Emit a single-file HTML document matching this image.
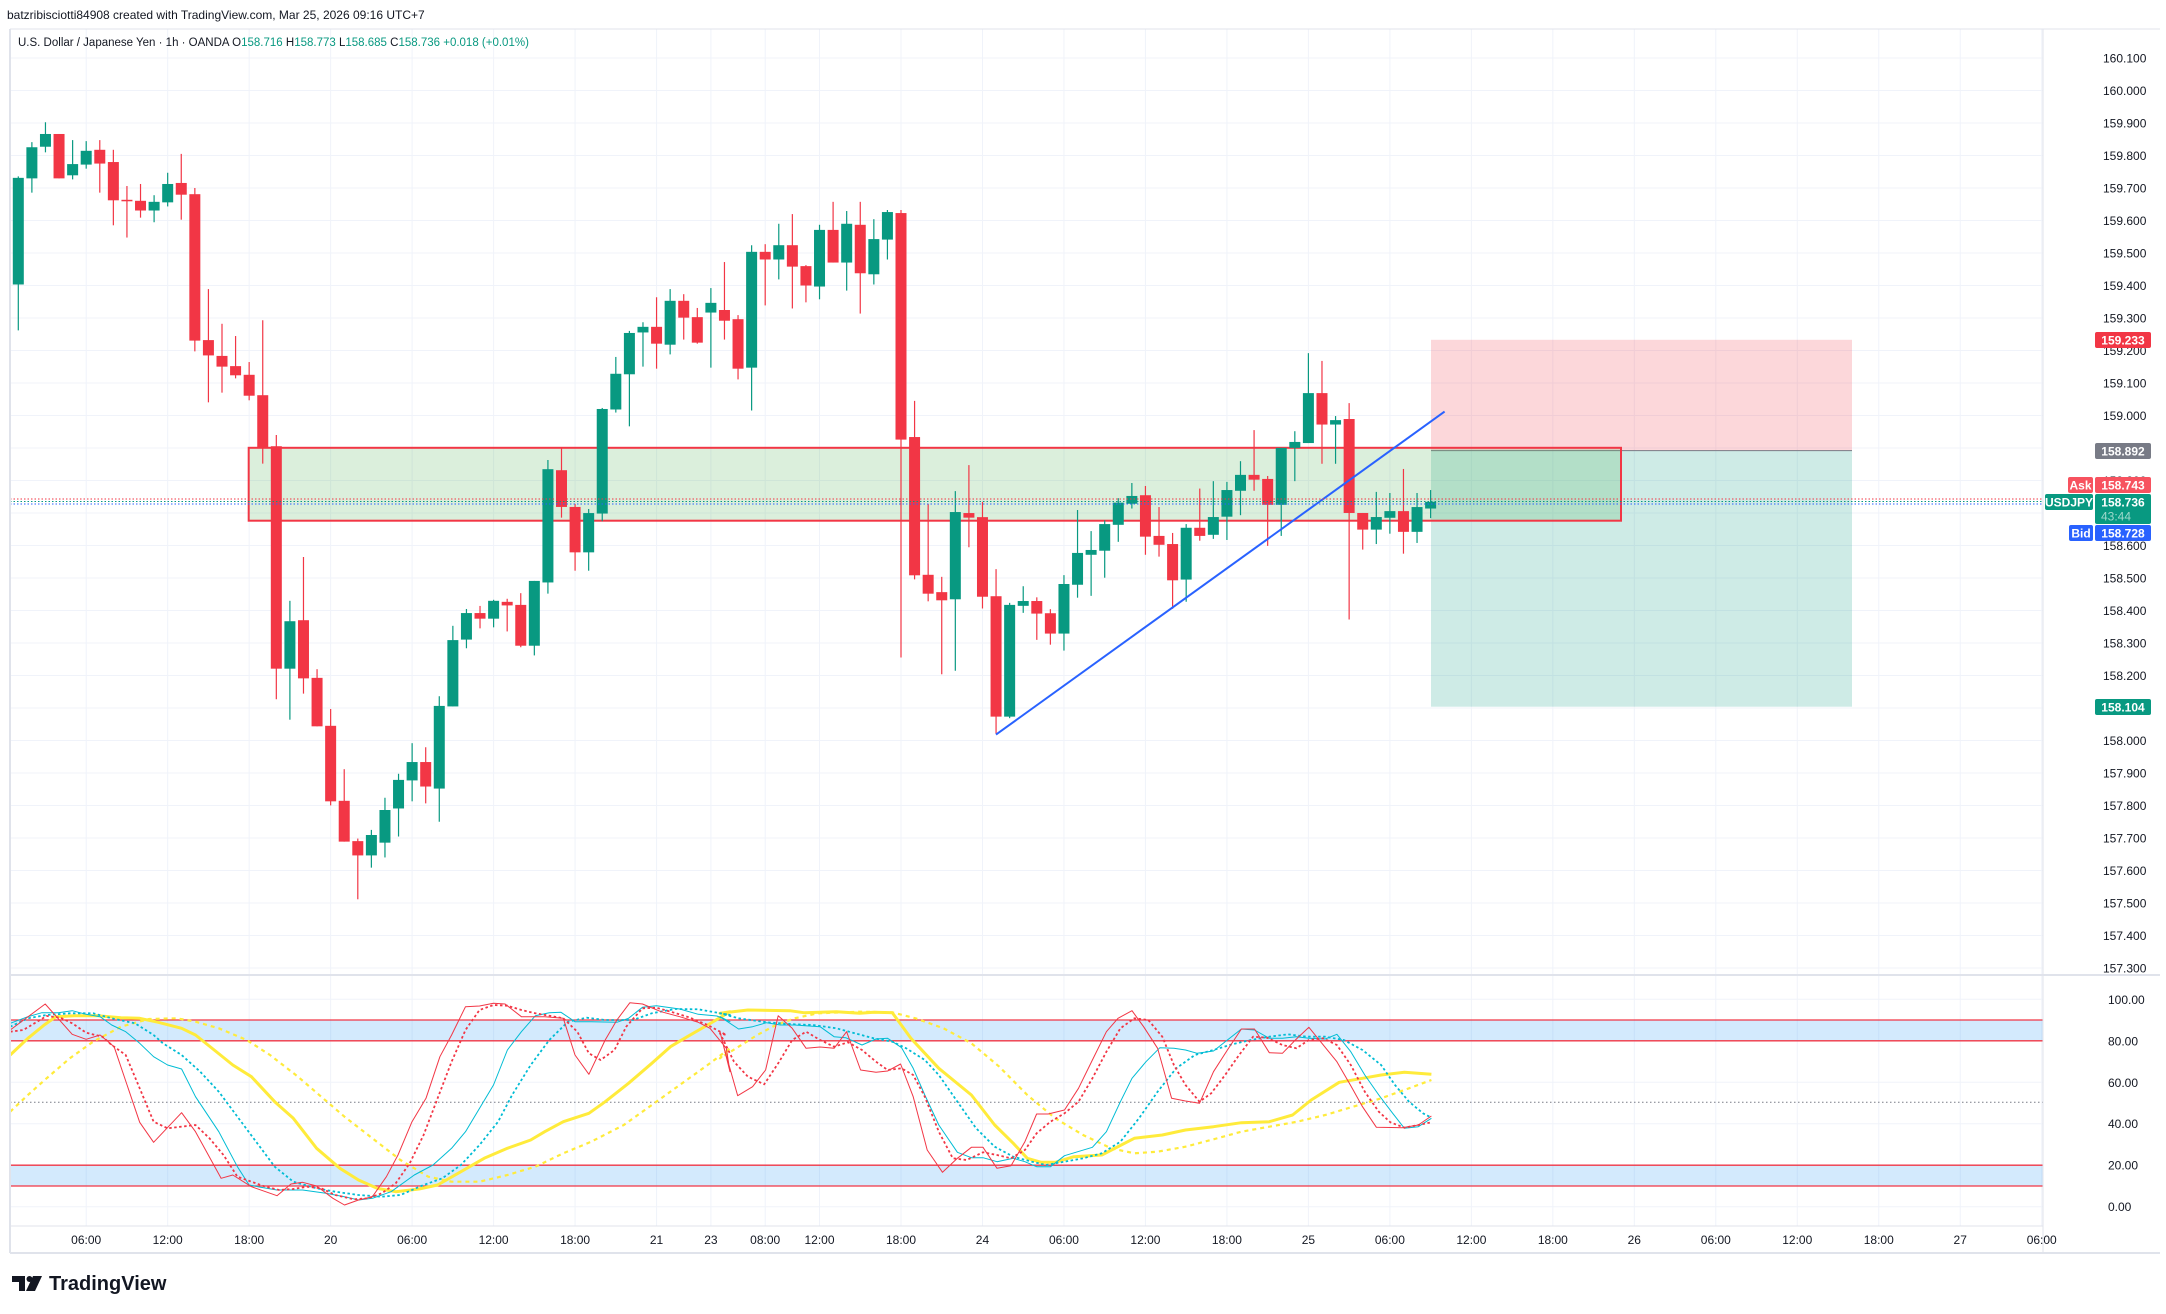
<!DOCTYPE html>
<html><head><meta charset="utf-8">
<style>
html,body{margin:0;padding:0;background:#fff;}
svg{display:block;font-family:"Liberation Sans",sans-serif;}
</style></head>
<body>
<svg id="c" xmlns="http://www.w3.org/2000/svg" width="2166" height="1314" viewBox="0 0 2166 1314">
<rect x="0" y="0" width="2166" height="1314" fill="#fff"/>
<g id="grid"></g>
<!-- position tool -->
<rect x="1431" y="339.8" width="421" height="110.8" fill="#f23645" fill-opacity="0.2"/>
<rect x="1431" y="450.6" width="421" height="256.1" fill="#089981" fill-opacity="0.2"/>
<line x1="1431" y1="450.6" x2="1852" y2="450.6" stroke="#787b86" stroke-width="1"/>
<!-- zone -->
<rect x="248.7" y="447.8" width="1372.3" height="72.9" fill="#4caf50" fill-opacity="0.2" stroke="#f23645" stroke-width="2"/>
<g id="candles"></g>
<line x1="996" y1="734.6" x2="1444.6" y2="411.6" stroke="#2962ff" stroke-width="2"/>
<!-- price lines -->
<line x1="10" y1="499" x2="2043" y2="499" stroke="#f23645" stroke-width="1" stroke-dasharray="1.5,2"/>
<line x1="10" y1="501.5" x2="2043" y2="501.5" stroke="#089981" stroke-width="1" stroke-dasharray="1.5,2"/>
<line x1="10" y1="504" x2="2043" y2="504" stroke="#2962ff" stroke-width="1" stroke-dasharray="1.5,2"/>
<!-- oscillator bands -->
<rect x="10" y="1020" width="2033" height="20.8" fill="#2196f3" fill-opacity="0.2"/>
<line x1="10" y1="1020" x2="2043" y2="1020" stroke="#f23645" stroke-width="1.3"/>
<line x1="10" y1="1040.8" x2="2043" y2="1040.8" stroke="#f23645" stroke-width="1.3"/>
<rect x="10" y="1165.2" width="2033" height="20.8" fill="#2196f3" fill-opacity="0.2"/>
<line x1="10" y1="1165.2" x2="2043" y2="1165.2" stroke="#f23645" stroke-width="1.3"/>
<line x1="10" y1="1186" x2="2043" y2="1186" stroke="#f23645" stroke-width="1.3"/>
<line x1="10" y1="1102.3" x2="2043" y2="1102.3" stroke="#787b86" stroke-width="1" stroke-dasharray="1.5,2.5"/>
<g id="osc"></g>
<!-- frame -->
<line x1="10" y1="29" x2="10" y2="1253" stroke="#e0e3eb" stroke-width="2"/>
<line x1="2043" y1="29" x2="2043" y2="1253" stroke="#e0e3eb" stroke-width="1"/>
<line x1="10" y1="975" x2="2160" y2="975" stroke="#e0e3eb" stroke-width="2"/>
<line x1="10" y1="1226" x2="2043" y2="1226" stroke="#e0e3eb" stroke-width="1"/>
<line x1="10" y1="1253" x2="2160" y2="1253" stroke="#e0e3eb" stroke-width="2"/>
<line x1="10" y1="29" x2="2160" y2="29" stroke="#e0e3eb" stroke-width="1"/>
<g id="labels" font-size="12" fill="#131722"></g>
<!-- header -->
<text x="7" y="19" font-size="12" fill="#131722">batzribisciotti84908 created with TradingView.com, Mar 25, 2026 09:16 UTC+7</text>
<text x="18" y="46" font-size="11.5" fill="#131722">U.S. Dollar / Japanese Yen · 1h · OANDA <tspan>O</tspan><tspan fill="#089981">158.716</tspan> <tspan>H</tspan><tspan fill="#089981">158.773</tspan> <tspan>L</tspan><tspan fill="#089981">158.685</tspan> <tspan>C</tspan><tspan fill="#089981">158.736 +0.018 (+0.01%)</tspan></text>
<!-- badges -->
<g font-size="12" font-weight="bold" fill="#fff">
<rect x="2095" y="332" width="56" height="16" rx="2" fill="#f23645"/><text x="2123" y="344.5" text-anchor="middle">159.233</text>
<rect x="2095" y="443" width="56" height="16" rx="2" fill="#787b86"/><text x="2123" y="455.5" text-anchor="middle">158.892</text>
<rect x="2068" y="477" width="25" height="16" rx="2" fill="#f7525f"/><text x="2080.5" y="489.5" text-anchor="middle">Ask</text>
<rect x="2095" y="477" width="56" height="16" rx="2" fill="#f7525f"/><text x="2123" y="489.5" text-anchor="middle">158.743</text>
<rect x="2045" y="494" width="48" height="16" rx="2" fill="#089981"/><text x="2069" y="506.5" text-anchor="middle">USDJPY</text>
<rect x="2095" y="494" width="56" height="30" rx="2" fill="#089981"/><text x="2123" y="506.5" text-anchor="middle">158.736</text><text x="2116" y="520.5" text-anchor="middle" fill="#9fd9cc" font-weight="normal">43:44</text>
<rect x="2069" y="525" width="24" height="16" rx="2" fill="#2962ff"/><text x="2081" y="537.5" text-anchor="middle">Bid</text>
<rect x="2095" y="525" width="56" height="16" rx="2" fill="#2962ff"/><text x="2123" y="537.5" text-anchor="middle">158.728</text>
<rect x="2095" y="699" width="56" height="16" rx="2" fill="#089981"/><text x="2123" y="711.5" text-anchor="middle">158.104</text>
</g>
<!-- logo -->
<g fill="#131722">
<path d="M12 1276 h13 v15 h-6 v-9 h-7z"/>
<circle cx="29.5" cy="1279" r="3"/>
<path d="M33 1276 h9 l-7 15 h-9z"/>
<text x="49" y="1290" font-size="20" font-weight="bold">TradingView</text>
</g>
</svg>
<script>
(function(){
var NS="http://www.w3.org/2000/svg";
function el(t,a,p){var e=document.createElementNS(NS,t);for(var k in a)e.setAttribute(k,a[k]);p.appendChild(e);return e;}
var grid=document.getElementById('grid'),lab=document.getElementById('labels');
function X(i){return 18.3+13.58*i;}
// time grid + labels
var tl=[[5,"06:00"],[11,"12:00"],[17,"18:00"],[23,"20"],[29,"06:00"],[35,"12:00"],[41,"18:00"],[47,"21"],[51,"23"],[55,"08:00"],[59,"12:00"],[65,"18:00"],[71,"24"],[77,"06:00"],[83,"12:00"],[89,"18:00"],[95,"25"],[101,"06:00"],[107,"12:00"],[113,"18:00"],[119,"26"],[125,"06:00"],[131,"12:00"],[137,"18:00"],[143,"27"],[149,"06:00"]];
tl.forEach(function(t){var x=X(t[0]);
 el('line',{x1:x,y1:29,x2:x,y2:1226,stroke:'#f0f3fa','stroke-width':1},grid);
 var tx=el('text',{x:x,y:1244,'text-anchor':'middle'},lab);tx.textContent=t[1];});
// price grid
for(var k=0;k<=30;k++){var p=157.2+k*0.1;var y=318+(159.3-p)*325;
 if(y<35||y>970)continue;
 el('line',{x1:10,y1:y,x2:2043,y2:y,stroke:'#f0f3fa','stroke-width':1},grid);
 var tx=el('text',{x:2103,y:y+4.5},lab);tx.textContent=p.toFixed(3);}
// osc grid
[[100,"100.00"],[80,"80.00"],[60,"60.00"],[40,"40.00"],[20,"20.00"],[0,"0.00"]].forEach(function(o){var y=1206.7-o[0]*2.074;
 el('line',{x1:10,y1:y,x2:2043,y2:y,stroke:'#f0f3fa','stroke-width':1},grid);
 var tx=el('text',{x:2108,y:y+4.5},lab);tx.textContent=o[1];});
// candles
var A=[[133,342,130,432,'g'],[73,134,63,162,'g'],[47,72,24,83,'g'],[47,134,47,134,'r'],[106,128,59,136,'g'],[80,107,61,115,'g'],[78,105,59,162,'r'],[102,177,78,226,'r'],[176,178,149,250,'r'],[178,197,145,211,'r'],[180,197,167,220,'g'],[145,181,123,189,'g'],[143,166,86,215,'r'],[165,452,153,473,'r'],[451,481,351,573,'r'],[482,503,419,554,'r'],[502,520,443,526,'r'],[519,560,494,569,'r'],[559,662,412,693,'r'],[659,1095,637,1155,'r'],[1002,1095,962,1195,'g'],[1000,1114,876,1144,'r'],[1113,1208,1096,1208,'r'],[1207,1355,1174,1363,'r'],[1354,1434,1292,1434,'r'],[1433,1461,1428,1547,'r'],[1421,1461,1411,1485,'g'],[1372,1436,1348,1465,'g'],[1313,1369,1301,1424,'g'],[1278,1314,1241,1355,'g'],[1278,1326,1249,1359,'r'],[1168,1330,1149,1395,'g'],[1039,1169,1011,1169,'g'],[986,1038,978,1055,'g'],[986,997,972,1016,'r'],[962,997,960,1014,'g'],[964,971,958,1022,'r'],
[970,1050,947,1053,'r'],[923,1050,923,1069,'g'],[704,926,686,948,'g'],[706,778,662,799,'r'],[778,867,772,903,'r'],[790,867,782,903,'g'],[586,791,584,806,'g'],[517,587,484,593,'g'],[437,518,433,620,'g'],[425,436,416,503,'g'],[425,458,367,507,'r'],[374,460,351,479,'g'],[374,407,361,450,'r'],[406,456,388,458,'r'],[378,397,349,505,'g'],[392,413,298,450,'r'],[410,507,402,528,'r'],[278,505,265,589,'g'],[278,293,263,383,'r'],[265,293,223,332,'g'],[265,307,204,389,'r'],[306,344,304,377,'r'],[235,346,225,371,'g'],[235,299,180,299,'r'],[223,299,198,354,'g'],[225,320,180,399,'r'],[253,322,214,342,'g'],[200,254,196,293,'g'],[202,646,196,1073,'r'],[641,912,570,920,'r'],[911,948,772,963,'r'],[945,961,915,1106,'r'],[788,959,747,1099,'g'],[790,799,696,857,'r'],[798,954,768,977,'r'],[953,1189,900,1222,'r'],[970,1189,966,1192,'g']];
var B=[[1111,1124,1071,1143,'g'],[1111,1145,1101,1216,'r'],[1144,1199,1133,1229,'r'],[1065,1199,1041,1245,'g'],[981,1067,865,1102,'g'],[973,986,922,1097,'g'],[903,975,893,1048,'g'],[845,905,833,951,'g'],[827,848,792,861,'g'],[825,937,800,986,'r'],[935,959,857,991,'r'],[957,1055,927,1132,'r'],[913,1053,903,1113,'g'],[913,935,807,948,'r'],[884,932,787,943,'g'],[811,883,789,946,'g'],[770,813,733,879,'g'],[770,783,649,813,'r'],[781,851,773,962,'r'],[697,851,697,935,'g'],[681,697,652,787,'g'],[549,684,441,684,'g'],[549,634,462,740,'r'],[622,634,611,740,'g'],[619,873,576,1161,'r'],[873,918,873,972,'r'],[884,918,816,957,'g'],[868,886,819,929,'g'],[868,924,754,983,'r'],[857,924,819,954,'g'],[843,861,811,887,'g']];
var cg=document.getElementById('candles');
function draw(c,i,f){var x=X(i),col=c[4]=='g'?'#089981':'#f23645';
 var t=f(c[0]),b=f(c[1]);if(b-t<1.5)b=t+1.5;
 el('line',{x1:x,y1:f(c[2]),x2:x,y2:f(c[3]),stroke:col,'stroke-width':1.2},cg);
 el('rect',{x:x-5.5,y:t,width:11,height:b-t,fill:col},cg);}
A.forEach(function(c,i){draw(c,i,function(z){return 110+z/1.96;});});
B.forEach(function(c,j){draw(c,74+j,function(z){return 190+z/2.703;});});
// oscillator
var og=document.getElementById('osc');
function pts(a,b){var s=[];for(var i=0;i<a.length;i+=2)s.push((a[i]/2.148).toFixed(1)+','+(985+a[i+1]/3).toFixed(1));
 for(var i=0;i<b.length;i+=2)s.push((720+b[i]/2.148).toFixed(1)+','+(985+b[i+1]/3).toFixed(1));return s.join(' ');}
function line(a,b,col,w,dash){var at={points:pts(a,b),fill:'none',stroke:col,'stroke-width':w,'stroke-linejoin':'round'};if(dash)at['stroke-dasharray']=dash;el('polyline',at,og);}
line([22,210,60,160,95,120,120,95,160,92,210,92,260,98,300,100,340,112,390,130,420,150,460,195,500,240,540,275,590,350,630,400,680,490,730,550,770,585,810,610,850,620,900,612,940,600,990,560,1040,520,1090,490,1140,465,1170,440,1210,410,1265,385,1300,350,1350,295,1400,235,1440,185,1480,152,1520,120,1568,80],
[0,85,60,75,150,77,180,83,250,80,300,85,330,82,370,83,410,160,470,250,540,330,590,420,630,475,660,520,690,532,720,532,760,515,820,510,890,460,950,450,1000,435,1060,425,1120,413,1180,410,1230,390,1270,345,1330,292,1380,280,1420,270,1470,262,1528,268],'#ffeb3b',3);
line([22,380,60,330,100,280,150,220,200,170,260,125,320,102,380,100,420,110,470,130,530,165,580,210,640,275,690,335,740,395,800,460,860,525,920,575,970,590,1030,590,1090,570,1150,545,1210,505,1270,470,1340,420,1400,360,1460,300,1520,240,1568,190],
[0,220,40,185,80,150,120,120,160,100,210,85,300,80,370,82,420,100,480,130,540,175,600,245,660,330,720,400,780,450,840,490,890,505,940,500,1000,485,1060,463,1120,440,1180,425,1240,410,1300,390,1360,365,1420,340,1480,310,1528,285],'#ffeb3b',2.2,'4,4');
line([22,125,60,100,100,90,150,85,200,85,240,100,290,115,330,150,350,175,390,210,430,260,470,320,510,395,550,470,590,545,630,590,680,610,720,620,770,630,820,635,860,630,910,600,950,580,990,540,1030,480,1070,410,1100,330,1140,240,1180,165,1220,110,1260,98,1300,105,1360,105,1400,85,1450,72,1500,73,1568,90],
[0,85,40,100,100,112,160,118,200,120,250,130,290,145,330,160,370,170,400,190,440,225,470,270,510,350,550,430,590,485,630,515,670,530,700,540,740,530,780,520,820,505,860,470,900,400,940,320,980,250,1020,210,1060,195,1100,178,1140,165,1180,155,1220,148,1260,155,1300,155,1340,165,1380,195,1420,240,1450,300,1480,350,1510,385,1528,398],'#00bcd4',1.8,'2.5,2.5');
line([22,115,60,95,90,83,125,83,155,77,185,88,215,95,240,120,270,140,300,175,330,215,360,240,390,252,420,335,470,440,510,545,535,600,560,607,595,615,650,615,700,625,740,635,770,645,800,640,840,620,890,570,930,540,970,490,1000,440,1060,300,1090,195,1120,140,1150,92,1180,83,1205,82,1235,110,1270,110,1325,112,1350,100,1380,67,1410,62,1460,72,1500,88,1540,93,1568,110],
[0,95,40,132,70,125,100,113,130,120,160,120,215,125,245,155,270,158,305,180,335,162,360,160,390,188,415,250,440,330,470,420,510,502,540,518,565,518,595,530,630,520,655,530,680,545,710,545,740,512,800,487,830,440,860,350,885,280,915,230,945,188,975,190,1000,195,1025,205,1060,198,1090,165,1120,132,1148,135,1180,160,1208,160,1238,155,1265,160,1300,162,1325,148,1355,200,1385,270,1415,330,1445,385,1470,430,1500,425,1528,400],'#00bcd4',1);
line([22,140,50,135,100,93,130,98,155,115,185,143,220,155,240,180,270,210,300,310,330,410,360,430,420,420,450,460,480,510,510,575,540,590,570,605,600,615,630,612,660,605,690,610,720,630,760,643,790,640,820,625,850,595,880,535,910,450,940,340,970,230,1000,135,1030,75,1060,60,1090,62,1120,75,1150,85,1180,92,1210,100,1240,140,1265,205,1290,225,1320,195,1345,125,1380,70,1410,68,1445,82,1480,97,1520,120,1560,150],
[0,145,30,230,60,275,95,298,125,235,155,165,185,140,215,165,245,185,275,172,305,195,335,230,360,255,390,250,415,270,440,335,470,440,500,520,530,525,565,502,595,510,625,520,655,495,680,445,710,410,740,385,770,350,800,280,830,200,860,130,890,100,920,105,950,155,975,240,1000,300,1030,350,1055,325,1085,270,1115,210,1145,155,1175,158,1208,180,1238,190,1265,165,1295,160,1325,180,1355,240,1385,320,1415,380,1440,412,1470,428,1500,420,1528,412],'#f23645',1.8,'2.5,2.5');
line([22,135,97,57,155,148,185,163,215,150,245,185,300,412,330,472,390,383,420,440,475,580,500,570,540,605,595,632,625,597,650,592,680,603,715,640,740,660,770,645,800,635,830,575,855,510,885,410,915,340,945,215,970,150,1000,65,1030,63,1060,55,1085,57,1120,95,1170,95,1210,100,1235,210,1265,268,1300,165,1325,105,1353,53,1380,57,1420,80,1460,95,1500,112,1525,130,1560,190,1568,260],
[0,140,10,195,38,332,70,305,98,255,125,92,155,130,185,190,215,186,245,190,272,140,302,255,335,262,360,258,388,237,415,335,445,495,478,562,510,520,540,487,565,487,595,550,625,542,655,470,680,387,705,387,740,375,770,310,800,225,830,140,855,100,885,77,910,125,940,190,970,340,1000,348,1030,355,1060,260,1090,195,1120,132,1148,132,1180,203,1208,205,1238,162,1265,127,1290,170,1325,230,1355,302,1380,365,1410,427,1465,428,1500,420,1528,393],'#f23645',1);
})();
</script>
</body></html>
